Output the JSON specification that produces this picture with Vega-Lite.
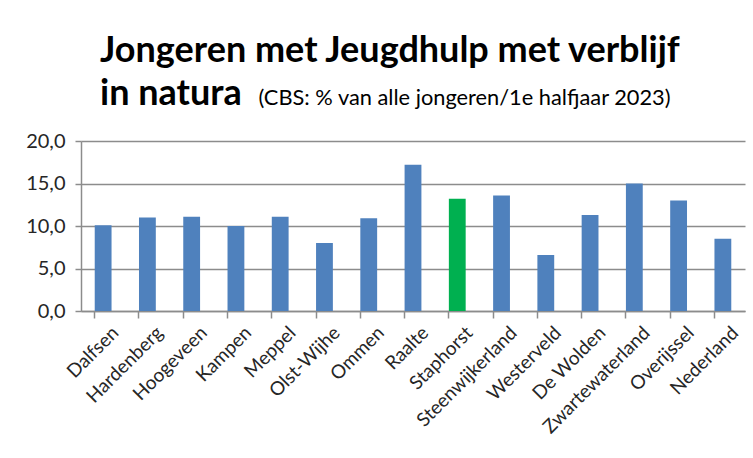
{
  "$schema": "https://vega.github.io/schema/vega-lite/v6.json",
  "width": 664,
  "height": 170,
  "autosize": {"type": "none"},
  "padding": {"left": 81, "top": 141, "right": 8, "bottom": 147},
  "background": "white",
  "title": {
    "text": ["Jongeren met Jeugdhulp met verblijf", "in natura"],
    "anchor": "start",
    "frame": "group",
    "dx": 19,
    "fontSize": 36,
    "lineHeight": 43,
    "font": "Lato",
    "fontWeight": "bold",
    "color": "#000000",
    "offset": -26
  },
  "data": {
    "values": [
      {"gemeente": "Dalfsen", "waarde": 10.1, "groep": "overig"},
      {"gemeente": "Hardenberg", "waarde": 11.0, "groep": "overig"},
      {"gemeente": "Hoogeveen", "waarde": 11.1, "groep": "overig"},
      {"gemeente": "Kampen", "waarde": 10.0, "groep": "overig"},
      {"gemeente": "Meppel", "waarde": 11.1, "groep": "overig"},
      {"gemeente": "Olst-Wijhe", "waarde": 8.0, "groep": "overig"},
      {"gemeente": "Ommen", "waarde": 10.9, "groep": "overig"},
      {"gemeente": "Raalte", "waarde": 17.2, "groep": "overig"},
      {"gemeente": "Staphorst", "waarde": 13.2, "groep": "Staphorst"},
      {"gemeente": "Steenwijkerland", "waarde": 13.6, "groep": "overig"},
      {"gemeente": "Westerveld", "waarde": 6.6, "groep": "overig"},
      {"gemeente": "De Wolden", "waarde": 11.3, "groep": "overig"},
      {"gemeente": "Zwartewaterland", "waarde": 15.0, "groep": "overig"},
      {"gemeente": "Overijssel", "waarde": 13.0, "groep": "overig"},
      {"gemeente": "Nederland", "waarde": 8.5, "groep": "overig"}
    ]
  },
  "layer": [
    {
      "mark": {"type": "bar"},
      "encoding": {
        "x": {
          "field": "gemeente",
          "type": "nominal",
          "sort": null,
          "scale": {"paddingInner": 0.62, "paddingOuter": 0.31},
          "axis": {
            "title": null,
            "labelAngle": -45,
            "labelFont": "Lato",
            "labelFontSize": 19,
            "labelColor": "#262626",
            "labelPadding": 12,
            "labelOffset": 6,
            "ticks": false,
            "domain": false,
            "grid": false
          }
        },
        "y": {
          "field": "waarde",
          "type": "quantitative",
          "scale": {"domain": [0, 20], "nice": false},
          "axis": {
            "title": "(CBS: % van alle jongeren/1e halfjaar 2023)",
            "titleAngle": 0,
            "titleX": 177,
            "titleY": -37,
            "titleAlign": "left",
            "titleBaseline": "alphabetic",
            "titleFont": "Lato",
            "titleFontSize": 21.8,
            "titleFontWeight": "normal",
            "titleColor": "#000000",
            "values": [0, 5, 10, 15, 20],
            "format": ".1f",
            "labelFont": "Lato",
            "labelFontSize": 20,
            "labelColor": "#262626",
            "labelPadding": 10,
            "tickSize": 6,
            "tickColor": "#8c8c8c",
            "tickWidth": 1.5,
            "domainColor": "#8c8c8c",
            "domainWidth": 1.5,
            "gridColor": "#8c8c8c",
            "gridWidth": 1.5
          }
        },
        "color": {
          "field": "groep",
          "type": "nominal",
          "scale": {"domain": ["overig", "Staphorst"], "range": ["#4f81bd", "#00b050"]},
          "legend": null
        }
      }
    },
    {
      "mark": {"type": "tick", "opacity": 0},
      "encoding": {
        "x": {
          "field": "gemeente",
          "type": "nominal",
          "sort": null,
          "axis": {
            "title": null,
            "orient": "bottom",
            "bandPosition": 0,
            "labels": false,
            "ticks": true,
            "tickSize": 7,
            "tickColor": "#8c8c8c",
            "tickWidth": 1.5,
            "domain": true,
            "domainColor": "#8c8c8c",
            "domainWidth": 1.5,
            "grid": false
          }
        },
        "y": {"field": "waarde", "type": "quantitative"}
      }
    }
  ],
  "resolve": {"axis": {"x": "independent"}},
  "config": {
    "locale": {"number": {"decimal": ",", "thousands": ".", "grouping": [3], "currency": ["€", ""]}},
    "view": {"stroke": null}
  }
}
